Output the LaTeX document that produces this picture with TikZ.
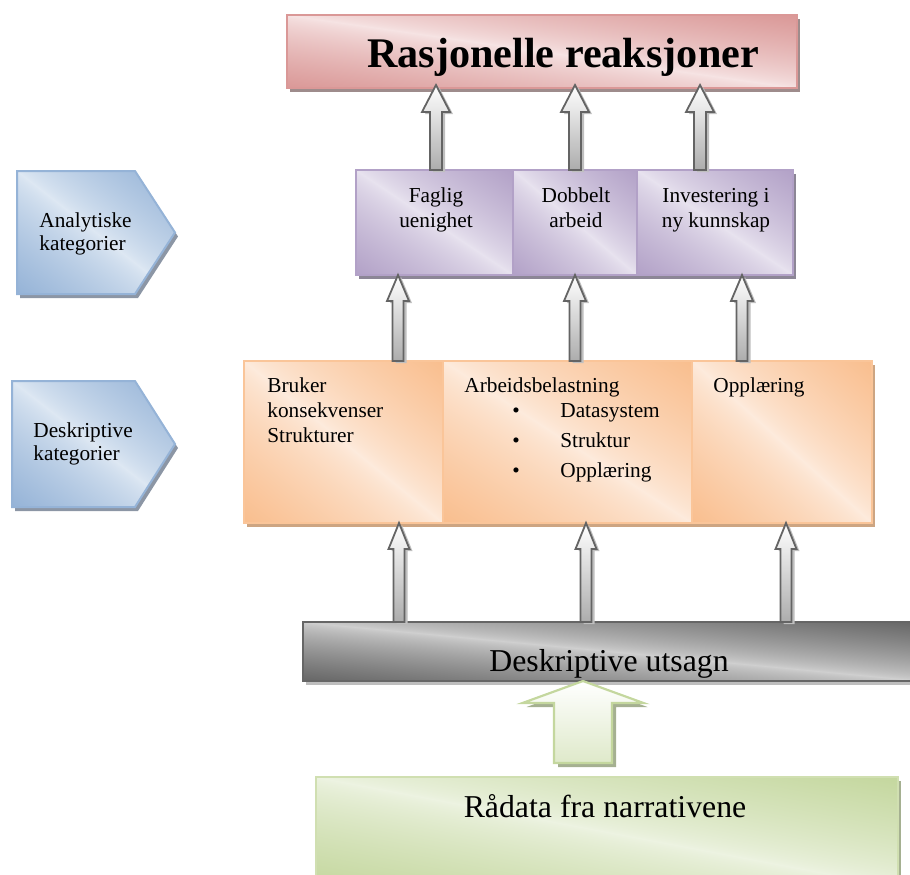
\documentclass[tikz,border=0pt]{standalone}
\usepackage{fontspec}
\setmainfont{Liberation Serif}
\usetikzlibrary{calc}

% fill colours: dark corner tone, light centre tone, shadow tone
\definecolor{pinkD}{RGB}{218,152,151}
\definecolor{pinkL}{RGB}{246,228,228}
\definecolor{pinkS}{RGB}{158,140,140}
\definecolor{purD}{RGB}{178,161,199}
\definecolor{purL}{RGB}{232,227,239}
\definecolor{purS}{RGB}{140,134,150}
\definecolor{orD}{RGB}{249,190,142}
\definecolor{orL}{RGB}{253,235,221}
\definecolor{orS}{RGB}{205,165,130}
\definecolor{bluD}{RGB}{149,179,215}
\definecolor{bluL}{RGB}{222,232,243}
\definecolor{bluS}{RGB}{140,150,165}
\definecolor{grD}{RGB}{102,102,102}
\definecolor{grL}{RGB}{208,208,208}
\definecolor{grS}{RGB}{190,190,190}
\definecolor{gnD}{RGB}{196,215,158}
\definecolor{gnL}{RGB}{237,243,226}
\definecolor{gnS}{RGB}{165,176,145}
\definecolor{arrD}{RGB}{100,100,100}

% diagonal panel fill: dark at lower-left and upper-right corners,
% light along the other diagonal
\colorlet{shdark}{black}
\colorlet{shlight}{white}
\pgfdeclarefunctionalshading[shdark,shlight]{diagpanel}
  {\pgfpoint{0bp}{0bp}}{\pgfpoint{100bp}{100bp}}
  {\pgfshadecolortorgb{shdark}{\sdk}\pgfshadecolortorgb{shlight}{\slt}}
  {add 50 sub 100 div 2 mul 1 sub abs dup sqrt sqrt exch sqrt mul
   dup \sdkred\space \sltred\space sub mul \sltred\space add exch
   dup \sdkgreen\space \sltgreen\space sub mul \sltgreen\space add exch
   \sdkblue\space \sltblue\space sub mul \sltblue\space add}

\tikzset{
  panel/.style n args={4}{% border, dark, light, shadow
    /utils/exec={\colorlet{shdark}{#2}\colorlet{shlight}{#3}},
    draw=#1, line width=1pt, inner sep=0pt, outer sep=0pt,
    shade, shading=diagpanel,
    preaction={fill=#4, transform canvas={shift={(1.5pt,-2pt)}}}},
  pinkpanel/.style={panel={pinkD}{pinkD}{pinkL}{pinkS}},
  purpanel/.style={panel={purD}{purD}{purL}{purS}},
  orpanel/.style={panel={orD!90!white}{orD}{orL}{orS}},
  blupanel/.style={panel={bluD}{bluD}{bluL}{bluS}},
  grpanel/.style={panel={grD}{grD}{grL}{grS}},
  gnpanel/.style={panel={gnD!80!white}{gnD}{gnL}{gnS}},
  boxw/.style={minimum width=#1, anchor=north west},
  small/.style={font=\fontsize{10.65}{12.5}\selectfont, inner sep=0pt},
  large/.style={font=\fontsize{15.9}{19}\selectfont, inner sep=0pt},
  greyarrow/.style={draw=arrD, line width=0.9pt, line join=miter,
    top color=white, bottom color=gray!65,
    preaction={fill=gray!50, transform canvas={shift={(1.5pt,-1pt)}}}},
  greenarrow/.style={draw=gnD, line width=1.1pt, line join=miter,
    top color=white, bottom color=gnD!55!white,
    preaction={fill=gnS, transform canvas={shift={(2pt,-2pt)}}}},
}

% block arrow from #1 (base) up to #2 (tip)
% #3 half shaft width, #4 half head width, #5 head length, #6 style
\newcommand\fatarrow[6]{%
  \path[#6] let \p1=(#1), \p2=(#2) in
    (\x1-#3,\y1) -- (\x1-#3,\y2-#5) -- (\x1-#4,\y2-#5) -- (\x1,\y2)
    -- (\x1+#4,\y2-#5) -- (\x1+#3,\y2-#5) -- (\x1+#3,\y1) -- cycle;}

\begin{document}
\begin{tikzpicture}[x=0.5pt,y=-0.5pt]
\useasboundingbox (0,0) rectangle (910,874);

% category tags on the left
\path[blupanel] (17,171) -- (135,171) -- (175,232.5) -- (135,294) -- (17,294) -- cycle;
\path[blupanel] (12,381) -- (135,381) -- (175,444) -- (135,507) -- (12,507) -- cycle;
\node[small, anchor=base west, align=left, font=\fontsize{10.65}{11.5}\selectfont]
  (analyt) at (39,250) {Analytiske\\kategorier};
\node[small, anchor=base west, align=left, font=\fontsize{10.65}{11.5}\selectfont]
  (deskr) at (33,460) {Deskriptive\\kategorier};

% top level
\node[pinkpanel, boxw=255pt, minimum height=36.5pt] (top) at (287,15) {};
\node[font=\fontsize{21.1}{25}\selectfont\bfseries, inner sep=0pt, anchor=base]
  (toptext) at (563,67) {Rasjonelle reaksjoner};

% analytic categories
\node[purpanel, boxw=78.5pt, minimum height=52.5pt] (p1) at (356,170) {};
\node[purpanel, boxw=62pt, minimum height=52.5pt] (p2) at (513,170) {};
\node[purpanel, boxw=78pt, minimum height=52.5pt] (p3) at (637,170) {};
\node[small, anchor=base, align=center] (p1t) at (436,227) {Faglig\\uenighet};
\node[small, anchor=base, align=center] (p2t) at (576,227) {Dobbelt\\arbeid};
\node[small, anchor=base, align=center] (p3t) at (716,227) {Investering i\\ny kunnskap};

% descriptive categories
\node[orpanel, boxw=99.5pt, minimum height=81pt] (o1) at (244,361) {};
\node[orpanel, boxw=124.5pt, minimum height=81pt] (o2) at (443,361) {};
\node[orpanel, boxw=90pt, minimum height=81pt] (o3) at (692,361) {};
\node[small, anchor=base west, align=left] (o1t) at (267,442)
  {Bruker\\konsekvenser\\Strukturer};
\node[small, anchor=base west] (o2t) at (464,392) {Arbeidsbelastning};
\node[small, anchor=base west, align=left, font=\fontsize{10.65}{15}\selectfont]
  (o2l) at (512,477)
  {\makebox[24pt][l]{\textbullet}Datasystem\\
   \makebox[24pt][l]{\textbullet}Struktur\\
   \makebox[24pt][l]{\textbullet}Opplæring};
\node[small, anchor=base west] (o3t) at (713,392) {Opplæring};

% statements and raw data
\node[grpanel, boxw=310pt, minimum height=29.5pt] (stmt) at (303,622) {};
\node[large, anchor=base] (stmtt) at (609,671) {Deskriptive utsagn};
\node[gnpanel, boxw=291pt, minimum height=55pt] (raw) at (316,777) {};
\node[large, anchor=base] (rawt) at (605,817) {Rådata fra narrativene};

% arrow end points
\coordinate (a1s) at (436,0 |- p1.north);  \coordinate (a1e) at (436,85);
\coordinate (a2s) at (575,0 |- p2.north);  \coordinate (a2e) at (575,85);
\coordinate (a3s) at (700,0 |- p3.north);  \coordinate (a3e) at (700,85);
\coordinate (b1s) at (398,0 |- o1.north);  \coordinate (b1e) at (398,0 |- p1.south);
\coordinate (b2s) at (575,0 |- o2.north);  \coordinate (b2e) at (575,0 |- p2.south);
\coordinate (b3s) at (742,0 |- o3.north);  \coordinate (b3e) at (742,0 |- p3.south);
\coordinate (c1s) at (399,0 |- stmt.north); \coordinate (c1e) at (399,0 |- o1.south);
\coordinate (c2s) at (586,0 |- stmt.north); \coordinate (c2e) at (586,0 |- o2.south);
\coordinate (c3s) at (786,0 |- stmt.north); \coordinate (c3e) at (786,0 |- o3.south);
\coordinate (ds) at (583,763); \coordinate (de) at (583,0 |- stmt.south);

\fatarrow{a1s}{a1e}{3pt}{7pt}{13.5pt}{greyarrow}
\fatarrow{a2s}{a2e}{3pt}{7pt}{13.5pt}{greyarrow}
\fatarrow{a3s}{a3e}{3pt}{7pt}{13.5pt}{greyarrow}
\fatarrow{b1s}{b1e}{2.75pt}{5.5pt}{13pt}{greyarrow}
\fatarrow{b2s}{b2e}{2.75pt}{5.5pt}{13pt}{greyarrow}
\fatarrow{b3s}{b3e}{2.75pt}{5.5pt}{13pt}{greyarrow}
\fatarrow{c1s}{c1e}{2.75pt}{5.25pt}{13pt}{greyarrow}
\fatarrow{c2s}{c2e}{2.75pt}{5.25pt}{13pt}{greyarrow}
\fatarrow{c3s}{c3e}{2.75pt}{5.25pt}{13pt}{greyarrow}
\fatarrow{ds}{de}{14.5pt}{30.25pt}{11pt}{greenarrow}
\end{tikzpicture}
\end{document}
